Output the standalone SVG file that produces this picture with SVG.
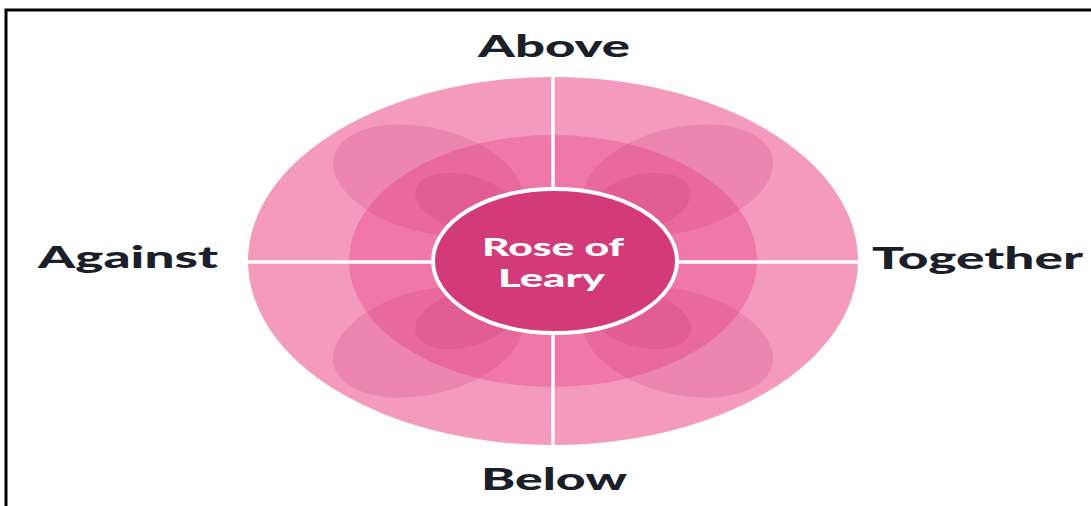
<svg xmlns="http://www.w3.org/2000/svg" width="1091" height="506" viewBox="0 0 1091 506">
<style>
.lbl{font-family:Lato,"Liberation Sans",sans-serif;font-weight:900;font-size:30px;fill:#1b1f2a}
.ctr{font-family:Lato,"Liberation Sans",sans-serif;font-weight:900;font-size:25px;fill:#ffffff}
.big{fill:#cc3272;fill-opacity:0.2}
.small{fill:#cc3272;fill-opacity:0.22}
.div{stroke:#ffffff;stroke-width:3.5}
</style>
<rect x="0" y="0" width="1091" height="506" fill="#ffffff"/>
<rect x="6" y="10" width="1100" height="520" fill="none" stroke="#000000" stroke-width="3"/>
<g id="rose">
  <ellipse cx="553" cy="261" rx="305" ry="184" fill="#f49bbd"/>
  <ellipse cx="553" cy="261" rx="204" ry="126" fill="#ef78a8"/>
  <ellipse class="big" cx="428" cy="180" rx="97" ry="52" transform="rotate(14 428 180)"/>
  <ellipse class="big" cx="678" cy="180" rx="97" ry="52" transform="rotate(-14 678 180)"/>
  <ellipse class="big" cx="428" cy="342" rx="97" ry="52" transform="rotate(-14 428 342)"/>
  <ellipse class="big" cx="678" cy="342" rx="97" ry="52" transform="rotate(14 678 342)"/>
  <ellipse class="small" cx="466" cy="203" rx="52" ry="28" transform="rotate(15 466 203)"/>
  <ellipse class="small" cx="640" cy="203" rx="52" ry="28" transform="rotate(-15 640 203)"/>
  <ellipse class="small" cx="466" cy="319" rx="52" ry="28" transform="rotate(-15 466 319)"/>
  <ellipse class="small" cx="640" cy="319" rx="52" ry="28" transform="rotate(15 640 319)"/>
</g>
<g id="connectors">
  <line class="div" x1="248" y1="262" x2="858" y2="262"/>
  <line class="div" x1="553" y1="77" x2="553" y2="445"/>
</g>
<g id="center">
  <ellipse cx="555" cy="261" rx="122" ry="72" fill="#d23a7a" stroke="#ffffff" stroke-width="4"/>
  <text class="ctr" x="482" y="256" textLength="142" lengthAdjust="spacingAndGlyphs">Rose of</text>
  <text class="ctr" x="498" y="287" textLength="107" lengthAdjust="spacingAndGlyphs">Leary</text>
</g>
<g id="above"><text class="lbl" x="478" y="57" textLength="152" lengthAdjust="spacingAndGlyphs">Above</text></g>
<g id="against"><text class="lbl" x="38" y="268" textLength="180" lengthAdjust="spacingAndGlyphs">Against</text></g>
<g id="together"><text class="lbl" x="872" y="269" textLength="211" lengthAdjust="spacingAndGlyphs">Together</text></g>
<g id="below"><text class="lbl" x="481" y="490" textLength="146" lengthAdjust="spacingAndGlyphs">Below</text></g>
</svg>
